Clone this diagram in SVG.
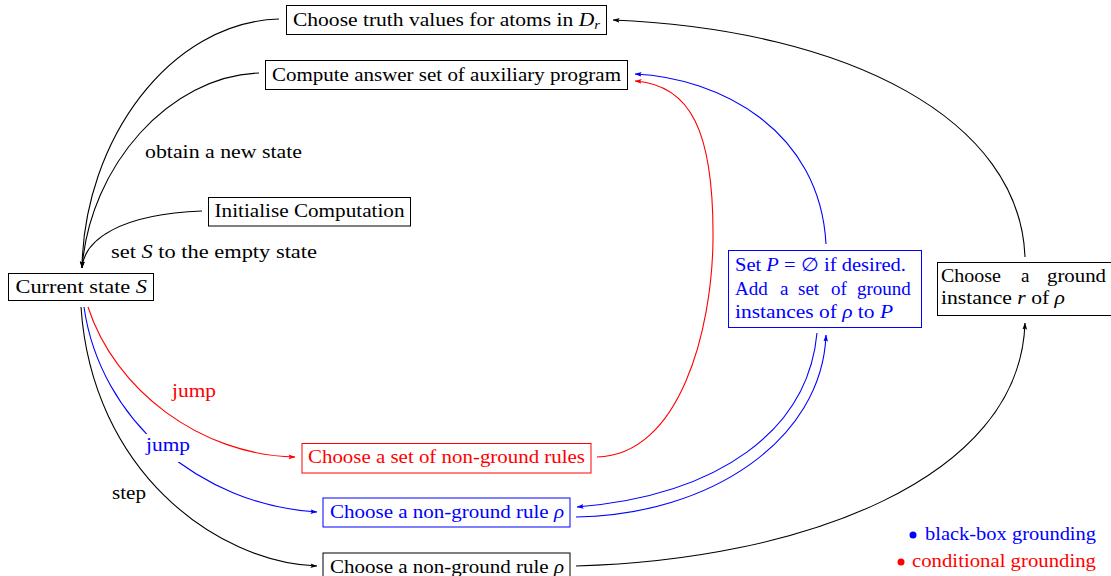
<svg xmlns="http://www.w3.org/2000/svg" width="1111" height="576" viewBox="0 0 1111 576">
<style>
text{font-family:"Liberation Serif","DejaVu Serif",serif;font-size:19px;fill:#000}
.m{font-style:italic}
.blue{fill:#0000ff}
.red{fill:#ff0000}
.box{fill:#fff;stroke:#000;stroke-width:1}
.bbox{fill:#fff;stroke:#0000ff;stroke-width:1}
.rbox{fill:#fff;stroke:#ff0000;stroke-width:1}
.c{fill:none;stroke-width:1.1}
.k{stroke:#000}
.b{stroke:#0000ff}
.r{stroke:#ff0000}
</style>
<defs>
<marker id="ak" viewBox="0 0 8 6" refX="7.5" refY="3" markerWidth="7" markerHeight="5.5" markerUnits="userSpaceOnUse" orient="auto"><path d="M0,0.3 L8,3 L0,5.7 L1.6,3 z" fill="#000"/></marker>
<marker id="ab" viewBox="0 0 8 6" refX="7.5" refY="3" markerWidth="7" markerHeight="5.5" markerUnits="userSpaceOnUse" orient="auto"><path d="M0,0.3 L8,3 L0,5.7 L1.6,3 z" fill="#0000ff"/></marker>
<marker id="ar" viewBox="0 0 8 6" refX="7.5" refY="3" markerWidth="7" markerHeight="5.5" markerUnits="userSpaceOnUse" orient="auto"><path d="M0,0.3 L8,3 L0,5.7 L1.6,3 z" fill="#ff0000"/></marker>
<mask id="gap" maskUnits="userSpaceOnUse" x="0" y="0" width="1111" height="576">
<rect x="0" y="0" width="1111" height="576" fill="#fff"/>
<rect x="142" y="434" width="52" height="28" fill="#000"/>
</mask>
</defs>

<g id="connectors">
<path class="c k" d="M279,19 C170,22 84,140 82,268" marker-end="url(#ak)"/>
<path class="c k" d="M259,73 C170,76 90,165 82,268" marker-end="url(#ak)"/>
<path class="c k" d="M202,211 C120,214 84,240 82,268" marker-end="url(#ak)"/>
<path class="c r" d="M88,307 C115,390 200,455 295,457" marker-end="url(#ar)"/>
<path class="c b" d="M84,307 C100,420 200,505 317,512" mask="url(#gap)" marker-end="url(#ab)"/>
<path class="c k" d="M81,307 C92,470 215,562 317,566" marker-end="url(#ak)"/>
<path class="c r" d="M597,457 C680,455 712,330 713,240 C714,130 690,85 635,81" marker-end="url(#ar)"/>
<path class="c b" d="M826,244 C820,130 720,78 635,74" marker-end="url(#ab)"/>
<path class="c k" d="M1025,257 C1020,120 850,30 613,20" marker-end="url(#ak)"/>
<path class="c b" d="M817,333 C808,430 720,495 577,507" marker-end="url(#ab)"/>
<path class="c b" d="M576,517 C710,515 822,440 826,335" marker-end="url(#ab)"/>
<path class="c k" d="M576,566 C800,560 1020,480 1025,323" marker-end="url(#ak)"/>
</g>

<g id="labels">
<text x="145" y="158" textLength="157" lengthAdjust="spacingAndGlyphs">obtain a new state</text>
<text x="111" y="258" textLength="206" lengthAdjust="spacingAndGlyphs">set <tspan class="m">S</tspan> to the empty state</text>
<text class="red" x="172" y="397" textLength="44" lengthAdjust="spacingAndGlyphs">jump</text>
<text class="blue" x="146" y="451" textLength="44" lengthAdjust="spacingAndGlyphs">jump</text>
<text x="112" y="499" textLength="34" lengthAdjust="spacingAndGlyphs">step</text>
</g>

<g id="node-truth">
<rect class="box" x="286.5" y="5.5" width="320" height="29"/>
<text x="293" y="26" textLength="307" lengthAdjust="spacingAndGlyphs">Choose truth values for atoms in <tspan class="m">D</tspan><tspan class="m" font-size="13" dy="3">r</tspan></text>
</g>

<g id="node-answer">
<rect class="box" x="265.5" y="60.5" width="362" height="29"/>
<text x="272" y="81" textLength="349" lengthAdjust="spacingAndGlyphs">Compute answer set of auxiliary program</text>
</g>

<g id="node-init">
<rect class="box" x="208.5" y="197.5" width="202" height="28.5"/>
<text x="214.5" y="217" textLength="190" lengthAdjust="spacingAndGlyphs">Initialise Computation</text>
</g>

<g id="node-current">
<rect class="box" x="8.5" y="273.5" width="145" height="27"/>
<text x="15.5" y="293" textLength="131.5" lengthAdjust="spacingAndGlyphs">Current state <tspan class="m">S</tspan></text>
</g>

<g id="node-setP">
<rect class="bbox" x="728.5" y="250.5" width="193" height="77"/>
<text class="blue" x="735" y="271" textLength="171" lengthAdjust="spacingAndGlyphs">Set <tspan class="m">P</tspan> = ∅ if desired.</text>
<text class="blue" y="295"><tspan x="735">Add</tspan><tspan x="780">a</tspan><tspan x="798">set</tspan><tspan x="831">of</tspan><tspan x="857">ground</tspan></text>
<text class="blue" x="735" y="318" textLength="158" lengthAdjust="spacingAndGlyphs">instances of <tspan class="m">ρ</tspan> to <tspan class="m">P</tspan></text>
</g>

<g id="node-ground">
<rect class="box" x="937.5" y="262.5" width="180" height="53"/>
<text y="282"><tspan x="941" textLength="60" lengthAdjust="spacingAndGlyphs">Choose</tspan><tspan x="1021">a</tspan><tspan x="1047" textLength="59" lengthAdjust="spacingAndGlyphs">ground</tspan></text>
<text x="941" y="304" textLength="124" lengthAdjust="spacingAndGlyphs">instance <tspan class="m">r</tspan> of <tspan class="m">ρ</tspan></text>
</g>

<g id="node-set-rules">
<rect class="rbox" x="302" y="443.5" width="289" height="29.5"/>
<text class="red" x="308" y="463" textLength="277" lengthAdjust="spacingAndGlyphs">Choose a set of non-ground rules</text>
</g>

<g id="node-rule-blue">
<rect class="bbox" x="323" y="498" width="247" height="29"/>
<text class="blue" x="330" y="518" textLength="234" lengthAdjust="spacingAndGlyphs">Choose a non-ground rule <tspan class="m">ρ</tspan></text>
</g>

<g id="node-rule-black">
<rect class="box" x="323" y="553" width="247" height="30"/>
<text x="330" y="573" textLength="234" lengthAdjust="spacingAndGlyphs">Choose a non-ground rule <tspan class="m">ρ</tspan></text>
</g>

<g id="legend">
<circle cx="913" cy="535" r="3.5" fill="#0000ff"/>
<text class="blue" x="1096" y="540" text-anchor="end" textLength="171" lengthAdjust="spacingAndGlyphs">black-box grounding</text>
<circle cx="901" cy="562" r="3.5" fill="#ff0000"/>
<text class="red" x="1096" y="567" text-anchor="end" textLength="184" lengthAdjust="spacingAndGlyphs">conditional grounding</text>
</g>
</svg>
